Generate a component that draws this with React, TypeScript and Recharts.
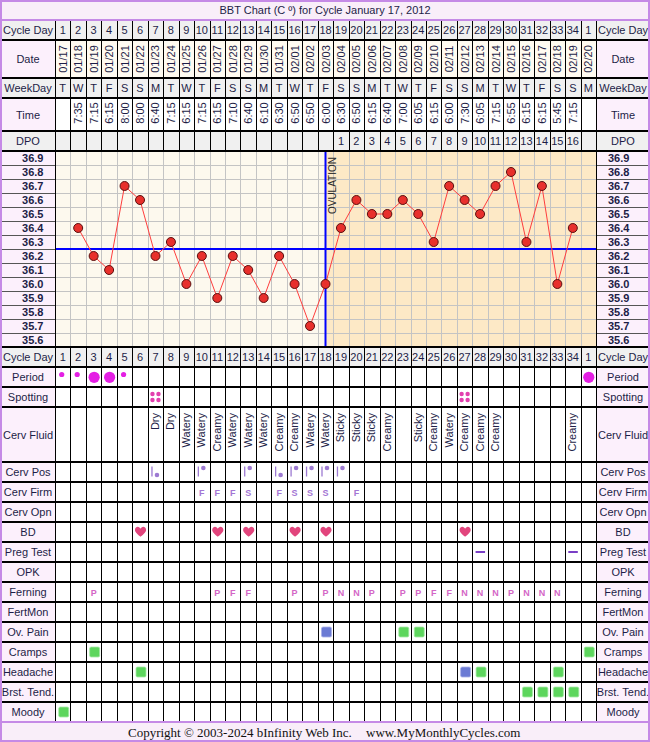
import React from 'react';
import { LineChart, Line, XAxis, YAxis, CartesianGrid, ReferenceLine, ReferenceArea } from 'recharts';

const CHART_W = 650;
const CHART_H = 742;
const LEFT_W = 55;
const RIGHT_W = 54;
const TITLE_H = 20;
const FOOT_H = 20;
const NCOLS = 35;
const COL_W = (CHART_W - LEFT_W - RIGHT_W) / NCOLS;

const FONT = '"Liberation Sans", Arial, Helvetica, sans-serif';
const SERIF = '"Liberation Serif", "Times New Roman", serif';
const TXT = '#1d1d47';
const GRAY = '#f0f0f0';
const LAV = '#fcf0fc';
const WHITE = '#ffffff';
const CREAM = '#fffbf1';
const PURPLE = '#c58ae6';

// ---------- data ----------
const CYCLE_DAYS = ['1','2','3','4','5','6','7','8','9','10','11','12','13','14','15','16','17','18','19','20','21','22','23','24','25','26','27','28','29','30','31','32','33','34','1'];
const DATES = ['01/17','01/18','01/19','01/20','01/21','01/22','01/23','01/24','01/25','01/26','01/27','01/28','01/29','01/30','01/31','02/01','02/02','02/03','02/04','02/05','02/06','02/07','02/08','02/09','02/10','02/11','02/12','02/13','02/14','02/15','02/16','02/17','02/18','02/19','02/20'];
const WEEKDAYS = ['T','W','T','F','S','S','M','T','W','T','F','S','S','M','T','W','T','F','S','S','M','T','W','T','F','S','S','M','T','W','T','F','S','S','M'];
const TIMES = ['','7:35','7:15','6:15','8:00','8:00','6:40','7:15','6:15','7:15','6:15','7:10','6:40','6:10','6:30','6:50','6:50','6:00','6:30','6:50','6:15','6:40','7:00','6:05','6:15','6:00','7:30','6:05','7:15','6:55','6:15','6:15','5:45','7:15',''];
const DPO = ['','','','','','','','','','','','','','','','','','','1','2','3','4','5','6','7','8','9','10','11','12','13','14','15','16',''];
const TEMPS: (number | null)[] = [null,36.4,36.2,36.1,36.7,36.6,36.2,36.3,36.0,36.2,35.9,36.2,36.1,35.9,36.2,36.0,35.7,36.0,36.4,36.6,36.5,36.5,36.6,36.5,36.3,36.7,36.6,36.5,36.7,36.8,36.3,36.7,36.0,36.4,null];
const TEMP_TICKS = [35.6,35.7,35.8,35.9,36.0,36.1,36.2,36.3,36.4,36.5,36.6,36.7,36.8,36.9];
const COVERLINE = 36.25;
const OVULATION_COL = 18;

const PERIOD: Record<number, string> = { 1: 'light', 2: 'light', 3: 'heavy', 4: 'heavy', 5: 'light', 35: 'heavy' };
const SPOTTING = [7, 27];
const CERV_FLUID: Record<number, string> = { 7: 'Dry', 8: 'Dry', 9: 'Watery', 10: 'Watery', 11: 'Creamy', 12: 'Watery', 13: 'Watery', 14: 'Watery', 15: 'Creamy', 16: 'Creamy', 17: 'Watery', 18: 'Watery', 19: 'Sticky', 20: 'Sticky', 21: 'Sticky', 22: 'Creamy', 24: 'Sticky', 25: 'Creamy', 26: 'Watery', 27: 'Creamy', 28: 'Creamy', 29: 'Creamy', 34: 'Creamy' };
const CERV_POS: Record<number, string> = { 7: 'low', 10: 'high', 13: 'high', 15: 'low', 16: 'high', 17: 'high', 18: 'high', 19: 'high' };
const CERV_FIRM: Record<number, string> = { 10: 'F', 11: 'F', 12: 'F', 13: 'S', 15: 'F', 16: 'S', 17: 'S', 18: 'S', 20: 'F' };
const BD = [6, 11, 13, 16, 18, 27];
const PREG_TEST = [28, 34];
const FERNING: Record<number, string> = { 3: 'P', 11: 'P', 12: 'F', 13: 'F', 16: 'P', 18: 'P', 19: 'N', 20: 'N', 21: 'P', 23: 'P', 24: 'P', 25: 'F', 26: 'F', 27: 'N', 28: 'N', 29: 'N', 30: 'P', 31: 'N', 32: 'N', 33: 'N' };
const OV_PAIN: Record<number, string> = { 18: 'b', 23: 'g', 24: 'g' };
const CRAMPS: Record<number, string> = { 3: 'g', 35: 'g' };
const HEADACHE: Record<number, string> = { 6: 'g', 27: 'b', 28: 'g', 33: 'g' };
const BRST_TEND: Record<number, string> = { 31: 'g', 32: 'g', 33: 'g', 34: 'g' };
const MOODY: Record<number, string> = { 1: 'g' };

const COLS = CYCLE_DAYS.map((_, i) => i + 1);
const COL_EDGES = COLS.slice(1).map((c) => c - 0.5);
const TEMP_EDGES = TEMP_TICKS.slice(1).map((t) => t - 0.05);

// ---------- cell drawing helpers ----------
const txt = (s: string | undefined, cx: number, y: number, extra: any = {}) =>
  s ? (
    <text x={cx} y={y} textAnchor="middle" fontSize={11} fill={TXT} fontFamily={FONT} {...extra}>
      {s}
    </text>
  ) : null;

const vtxt = (s: string | undefined, cx: number, cy: number) =>
  s ? (
    <text x={cx} y={cy} transform={`rotate(-90 ${cx} ${cy})`} textAnchor="middle" dominantBaseline="central" fontSize={11} fill={TXT} fontFamily={FONT}>
      {s}
    </text>
  ) : null;

const heartPath = (cx: number, cy: number) =>
  `M ${cx} ${cy + 4.8} C ${cx - 1} ${cy + 3.8}, ${cx - 5.6} ${cy + 0.6}, ${cx - 5.6} ${cy - 2} C ${cx - 5.6} ${cy - 4.4}, ${cx - 3.8} ${cy - 5.2}, ${cx - 2.8} ${cy - 5.2} C ${cx - 1.5} ${cy - 5.2}, ${cx - 0.5} ${cy - 4.2}, ${cx} ${cy - 3.2} C ${cx + 0.5} ${cy - 4.2}, ${cx + 1.5} ${cy - 5.2}, ${cx + 2.8} ${cy - 5.2} C ${cx + 3.8} ${cy - 5.2}, ${cx + 5.6} ${cy - 4.4}, ${cx + 5.6} ${cy - 2} C ${cx + 5.6} ${cy + 0.6}, ${cx + 1} ${cy + 3.8}, ${cx} ${cy + 4.8} Z`;

const square = (kind: string | undefined, cx: number, y0: number) =>
  kind ? (
    <rect x={cx + 1 - 5} y={y0 + 5} width={10} height={10} rx={1.5} fill={kind === 'b' ? '#6b7bd4' : '#5dd65d'} stroke={kind === 'b' ? '#a8b0e8' : '#a6eaa6'} strokeWidth={0.8} />
  ) : null;

const letter = (s: string | undefined, cx: number, y0: number, color: string) =>
  s ? (
    <text x={cx} y={y0 + 13.5} textAnchor="middle" fontSize={9} fontWeight="bold" fill={color} fontFamily={FONT}>
      {s}
    </text>
  ) : null;

type Row = {
  id: string;
  label: string;
  h: number;
  bg: string;
  labelBg: string;
  draw: (col: number, cx: number, y0: number) => React.ReactNode;
};

// top rows, listed from the plot outward (ids sort in that order)
const TOP_ROWS: Row[] = [
  { id: 't00dpo', label: 'DPO', h: 20, bg: GRAY, labelBg: GRAY, draw: (c, cx, y0) => txt(DPO[c - 1], cx, y0 + 14) },
  { id: 't01time', label: 'Time', h: 33, bg: WHITE, labelBg: LAV, draw: (c, cx, y0) => vtxt(TIMES[c - 1], cx, y0 + 15) },
  { id: 't02wd', label: 'WeekDay', h: 20, bg: GRAY, labelBg: GRAY, draw: (c, cx, y0) => txt(WEEKDAYS[c - 1], cx, y0 + 14) },
  { id: 't03date', label: 'Date', h: 38, bg: CREAM, labelBg: LAV, draw: (c, cx, y0) => vtxt(DATES[c - 1], cx, y0 + 19) },
  { id: 't04cd', label: 'Cycle Day', h: 20, bg: GRAY, labelBg: GRAY, draw: (c, cx, y0) => txt(CYCLE_DAYS[c - 1], cx, y0 + 14) },
];

const BOTTOM_ROWS: Row[] = [
  { id: 'u00cd', label: 'Cycle Day', h: 20, bg: GRAY, labelBg: GRAY, draw: (c, cx, y0) => txt(CYCLE_DAYS[c - 1], cx, y0 + 14) },
  {
    id: 'u01period', label: 'Period', h: 20, bg: WHITE, labelBg: LAV,
    draw: (c, cx, y0) =>
      PERIOD[c] === 'heavy' ? <circle cx={cx + 0.5} cy={y0 + 10.3} r={5.6} fill="#e41fe4" />
      : PERIOD[c] === 'light' ? <circle cx={cx - 1} cy={y0 + 7.5} r={2.6} fill="#e41fe4" /> : null,
  },
  {
    id: 'u02spot', label: 'Spotting', h: 20, bg: WHITE, labelBg: LAV,
    draw: (c, cx, y0) =>
      SPOTTING.includes(c) ? (
        <g fill="#e23fae">
          <circle cx={cx - 3} cy={y0 + 7} r={2.2} />
          <circle cx={cx + 3} cy={y0 + 7} r={2.2} />
          <circle cx={cx - 3} cy={y0 + 13} r={2.2} />
          <circle cx={cx + 3} cy={y0 + 13} r={2.2} />
        </g>
      ) : null,
  },
  {
    id: 'u03fluid', label: 'Cerv Fluid', h: 55, bg: WHITE, labelBg: LAV,
    draw: (c, cx, y0) => {
      const s = CERV_FLUID[c];
      if (!s) return null;
      const bx = cx + 3.5;
      const ty = y0 + 6;
      return (
        <text x={bx} y={ty} transform={`rotate(-90 ${bx} ${ty})`} textAnchor="end" fontSize={11} fill={TXT} fontFamily={FONT}>
          {s}
        </text>
      );
    },
  },
  {
    id: 'u04pos', label: 'Cerv Pos', h: 20, bg: WHITE, labelBg: LAV,
    draw: (c, cx, y0) => {
      const p = CERV_POS[c];
      if (!p) return null;
      return (
        <g>
          <line x1={cx - 3.5} x2={cx - 3.5} y1={y0 + 4.5} y2={y0 + 14.5} stroke="#9d7ad2" strokeWidth={1.3} />
          <circle cx={cx + 1.5} cy={p === 'high' ? y0 + 6 : y0 + 13} r={2.3} fill="#9d7ad2" />
        </g>
      );
    },
  },
  { id: 'u05firm', label: 'Cerv Firm', h: 20, bg: WHITE, labelBg: LAV, draw: (c, cx, y0) => letter(CERV_FIRM[c], cx, y0, '#a476d4') },
  { id: 'u06opn', label: 'Cerv Opn', h: 20, bg: WHITE, labelBg: LAV, draw: () => null },
  {
    id: 'u07bd', label: 'BD', h: 20, bg: WHITE, labelBg: LAV,
    draw: (c, cx, y0) => (BD.includes(c) ? <path d={heartPath(cx + 0.5, y0 + 10)} fill="#e2457d" /> : null),
  },
  {
    id: 'u08preg', label: 'Preg Test', h: 20, bg: WHITE, labelBg: LAV,
    draw: (c, cx, y0) => (PREG_TEST.includes(c) ? <rect x={cx - 4.5} y={y0 + 9} width={9.5} height={2} fill="#7a3fc6" /> : null),
  },
  { id: 'u09opk', label: 'OPK', h: 20, bg: WHITE, labelBg: LAV, draw: () => null },
  { id: 'u10fern', label: 'Ferning', h: 20, bg: WHITE, labelBg: LAV, draw: (c, cx, y0) => letter(FERNING[c], cx, y0, '#d466c6') },
  { id: 'u11fertmon', label: 'FertMon', h: 20, bg: WHITE, labelBg: LAV, draw: () => null },
  { id: 'u12ovpain', label: 'Ov. Pain', h: 20, bg: WHITE, labelBg: LAV, draw: (c, cx, y0) => square(OV_PAIN[c], cx, y0) },
  { id: 'u13cramps', label: 'Cramps', h: 20, bg: WHITE, labelBg: LAV, draw: (c, cx, y0) => square(CRAMPS[c], cx, y0) },
  { id: 'u14headache', label: 'Headache', h: 20, bg: WHITE, labelBg: LAV, draw: (c, cx, y0) => square(HEADACHE[c], cx, y0) },
  { id: 'u15brst', label: 'Brst. Tend.', h: 20, bg: WHITE, labelBg: LAV, draw: (c, cx, y0) => square(BRST_TEND[c], cx, y0) },
  { id: 'u16moody', label: 'Moody', h: 20, bg: WHITE, labelBg: LAV, draw: (c, cx, y0) => square(MOODY[c], cx, y0) },
];

const TOP_TOTAL = TOP_ROWS.reduce((s, r) => s + r.h, 0);
const BOTTOM_TOTAL = BOTTOM_ROWS.reduce((s, r) => s + r.h, 0);
const PLOT_TOP = TITLE_H + TOP_TOTAL;
const PLOT_BOTTOM = CHART_H - FOOT_H - BOTTOM_TOTAL;

const makeTick = (row: Row, orient: 'top' | 'bottom') => (p: any) => {
  const cx = Number(p.x);
  const col = Number(p.payload?.value);
  const y0 = orient === 'top' ? Number(p.y) - row.h : Number(p.y);
  const lx = Math.round(cx - COL_W / 2) + 0.5;
  return (
    <g>
      {col > 1 ? <line x1={lx} x2={lx} y1={y0} y2={y0 + row.h} stroke="#000" strokeWidth={1} /> : null}
      {row.draw(col, cx, y0)}
    </g>
  );
};

const LeftTempTick = (p: any) => (
  <text x={Number(p.x) - 11.5} y={Number(p.y)} dy={4} textAnchor="end" fontSize={11} fontWeight="bold" fill={TXT} fontFamily={FONT}>
    {Number(p.payload?.value).toFixed(1)}
  </text>
);
const RightTempTick = (p: any) => (
  <text x={Number(p.x) + 12} y={Number(p.y)} dy={4} textAnchor="start" fontSize={11} fontWeight="bold" fill={TXT} fontFamily={FONT}>
    {Number(p.payload?.value).toFixed(1)}
  </text>
);

const OvuLabel = (props: any) => {
  const vb = props?.viewBox || props || {};
  const x = Number(vb.x ?? 0) + 10.5;
  const y = Number(vb.y ?? 0) + 6;
  return (
    <text x={x} y={y} transform={`rotate(-90 ${x} ${y})`} textAnchor="end" fontSize={10} fill="#2a2a2a" fontFamily={FONT}>
      OVULATION
    </text>
  );
};

export default function App() {
  const data = COLS.map((x, i) => ({ x, temp: TEMPS[i] }));

  const layout: { row: Row; y0: number }[] = [];
  let yy = PLOT_TOP;
  for (const r of TOP_ROWS) {
    yy -= r.h;
    layout.push({ row: r, y0: yy });
  }
  yy = PLOT_BOTTOM;
  for (const r of BOTTOM_ROWS) {
    layout.push({ row: r, y0: yy });
    yy += r.h;
  }
  const bounds = new Set<number>();
  layout.forEach(({ row, y0 }) => {
    bounds.add(y0);
    bounds.add(y0 + row.h);
  });
  bounds.add(PLOT_TOP);
  bounds.add(PLOT_BOTTOM);
  const rowPx = (PLOT_BOTTOM - PLOT_TOP) / TEMP_TICKS.length;

  const xCommon: any = {
    type: 'number',
    dataKey: 'x',
    domain: [0.5, NCOLS + 0.5],
    ticks: COLS,
    interval: 0,
    tickSize: 0,
    tickMargin: 0,
    axisLine: false,
    tickLine: false,
    allowDataOverflow: true,
  };
  const yCommon: any = {
    type: 'number',
    domain: [TEMP_TICKS[0] - 0.05, TEMP_TICKS[TEMP_TICKS.length - 1] + 0.05],
    ticks: TEMP_TICKS,
    interval: 0,
    tickSize: 0,
    tickMargin: 0,
    axisLine: false,
    tickLine: false,
    allowDataOverflow: true,
  };

  const vGen = ({ xAxis, offset }: any) =>
    COL_EDGES.map((v) => {
      const px = typeof xAxis?.scale === 'function' ? xAxis.scale(v) : offset.left + ((v - 0.5) / NCOLS) * offset.width;
      return Math.round(px) + 0.5;
    });
  const hGen = ({ yAxis, offset }: any) =>
    TEMP_EDGES.map((v) => {
      const lo = TEMP_TICKS[0] - 0.05;
      const hi = TEMP_TICKS[TEMP_TICKS.length - 1] + 0.05;
      const py = typeof yAxis?.scale === 'function' ? yAxis.scale(v) : offset.top + ((hi - v) / (hi - lo)) * offset.height;
      return Math.round(py) + 0.5;
    });

  const mainX = TOP_ROWS[0].id;

  return (
    <div style={{ position: 'absolute', left: 0, top: 0, width: CHART_W, height: CHART_H, overflow: 'hidden', fontFamily: FONT, background: '#fff' }}>
      {/* background layer */}
      <svg width={CHART_W} height={CHART_H} style={{ position: 'absolute', left: 0, top: 0 }}>
        <rect x={0} y={0} width={CHART_W} height={TITLE_H} fill="#f9eef9" />
        <rect x={0} y={CHART_H - FOOT_H} width={CHART_W} height={FOOT_H} fill="#f9eef9" />
        {layout.map(({ row, y0 }) => (
          <g key={'bg' + row.id}>
            <rect x={0} y={y0} width={LEFT_W} height={row.h} fill={row.labelBg} />
            <rect x={LEFT_W} y={y0} width={CHART_W - LEFT_W - RIGHT_W} height={row.h} fill={row.bg} />
            <rect x={CHART_W - RIGHT_W} y={y0} width={RIGHT_W} height={row.h} fill={row.labelBg} />
          </g>
        ))}
        <rect x={0} y={PLOT_TOP} width={LEFT_W} height={PLOT_BOTTOM - PLOT_TOP} fill={LAV} />
        <rect x={LEFT_W} y={PLOT_TOP} width={CHART_W - LEFT_W - RIGHT_W} height={PLOT_BOTTOM - PLOT_TOP} fill="#fdf9ee" />
        <rect x={CHART_W - RIGHT_W} y={PLOT_TOP} width={RIGHT_W} height={PLOT_BOTTOM - PLOT_TOP} fill={LAV} />
      </svg>

      {/* chart layer */}
      <div style={{ position: 'absolute', left: 0, top: 0 }}>
        <LineChart width={CHART_W} height={CHART_H} data={data} margin={{ top: TITLE_H, right: 0, bottom: FOOT_H, left: 0 }}>
          <YAxis yAxisId="L" orientation="left" width={LEFT_W} {...yCommon} tick={LeftTempTick} />
          <YAxis yAxisId="R" orientation="right" width={RIGHT_W} {...yCommon} tick={RightTempTick} />
          {TOP_ROWS.map((r) => (
            <XAxis key={r.id} xAxisId={r.id} orientation="top" height={r.h} {...xCommon} tick={makeTick(r, 'top')} />
          ))}
          {BOTTOM_ROWS.map((r) => (
            <XAxis key={r.id} xAxisId={r.id} orientation="bottom" height={r.h} {...xCommon} tick={makeTick(r, 'bottom')} />
          ))}
          <ReferenceArea xAxisId={mainX} yAxisId="L" x1={OVULATION_COL} x2={NCOLS + 0.5} fill="#fde9c6" fillOpacity={1} stroke="none" zIndex={-200} />
          <CartesianGrid xAxisId={mainX} yAxisId="L" stroke="#c4c4c4" strokeWidth={1} verticalCoordinatesGenerator={vGen} horizontalCoordinatesGenerator={hGen} />
          <ReferenceLine xAxisId={mainX} yAxisId="L" y={COVERLINE} stroke="#0000ff" strokeWidth={2} />
          <ReferenceLine xAxisId={mainX} yAxisId="L" x={OVULATION_COL} stroke="#0000ff" strokeWidth={2} label={OvuLabel} />
          <Line
            xAxisId={mainX}
            yAxisId="L"
            type="linear"
            dataKey="temp"
            stroke="#ff3d3d"
            strokeWidth={1}
            dot={{ r: 4.5, fill: '#e8302c', stroke: '#5a1010', strokeWidth: 1 }}
            activeDot={false}
            connectNulls
            isAnimationActive={false}
          />
        </LineChart>
      </div>

      {/* overlay layer */}
      <svg width={CHART_W} height={CHART_H} style={{ position: 'absolute', left: 0, top: 0, pointerEvents: 'none' }}>
        {TEMP_TICKS.slice(1).map((_, k) => {
          const y = Math.round(PLOT_TOP + (k + 1) * rowPx) + 0.5;
          return (
            <g key={'tl' + k}>
              <line x1={0} x2={LEFT_W} y1={y} y2={y} stroke="#555" strokeWidth={1} />
              <line x1={CHART_W - RIGHT_W} x2={CHART_W} y1={y} y2={y} stroke="#555" strokeWidth={1} />
            </g>
          );
        })}
        <line x1={LEFT_W + 0.5} x2={LEFT_W + 0.5} y1={TITLE_H} y2={CHART_H - FOOT_H} stroke="#000" strokeWidth={1} />
        <line x1={CHART_W - RIGHT_W + 0.5} x2={CHART_W - RIGHT_W + 0.5} y1={TITLE_H} y2={CHART_H - FOOT_H} stroke="#000" strokeWidth={1} />
        {Array.from(bounds).map((b) => (
          <rect key={'hb' + b} x={0} y={b - 1} width={CHART_W} height={2} fill={b === TITLE_H || b === CHART_H - FOOT_H ? PURPLE : '#000'} />
        ))}
        {layout.map(({ row, y0 }) => (
          <g key={'lb' + row.id}>
            <text x={28} y={y0 + row.h / 2 + 4} textAnchor="middle" fontSize={11} fill={TXT} fontFamily={FONT}>
              {row.label}
            </text>
            <text x={623} y={y0 + row.h / 2 + 4} textAnchor="middle" fontSize={11} fill={TXT} fontFamily={FONT}>
              {row.label}
            </text>
          </g>
        ))}
        <text x={325} y={14} textAnchor="middle" fontSize={11} fill={TXT} fontFamily={FONT}>
          BBT Chart (C º) for Cycle January 17, 2012
        </text>
        <text x={128} y={736.5} fontSize={13} fill="#111" fontFamily={SERIF}>
          Copyright © 2003-2024 bInfinity Web Inc.
        </text>
        <text x={366} y={736.5} fontSize={13} fill="#111" fontFamily={SERIF}>
          www.MyMonthlyCycles.com
        </text>
        <rect x={1} y={1} width={CHART_W - 2} height={CHART_H - 2} fill="none" stroke={PURPLE} strokeWidth={2} />
      </svg>
    </div>
  );
}
